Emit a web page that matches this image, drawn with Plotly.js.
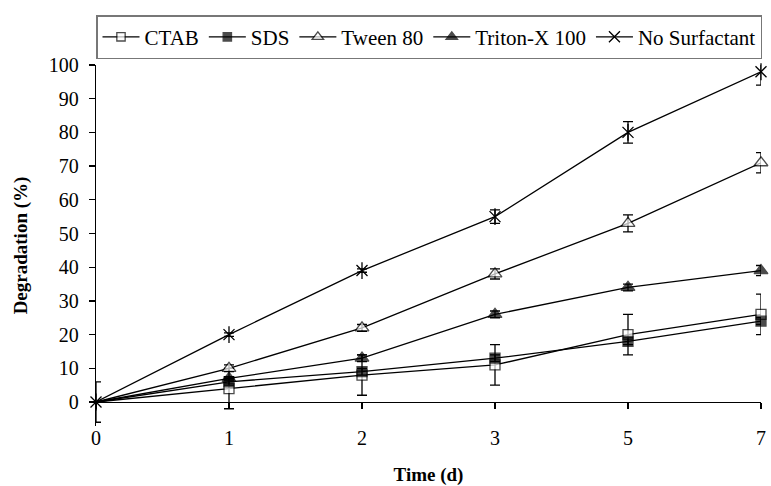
<!DOCTYPE html>
<html>
<head>
<meta charset="utf-8">
<script src="https://cdn.plot.ly/plotly-3.0.1.min.js"></script>
<style>html,body{margin:0;padding:0;background:#fff;}#chart{width:771px;height:486px;}</style>
</head>
<body>
<div id="chart"></div>
<script>
// Data
var timeLabels = ['0', '1', '2', '3', '5', '7'];

var ctab      = [0, 4, 8, 11, 20, 26];
var ctabErr   = [6, 6, 6, 6, 6, 6];

var sds       = [0, 6, 9, 13, 18, 24];
var sdsErr    = [0, 1, 1, 1, 1, 1];

var tween     = [0, 10, 22, 38, 53, 71];
var tweenErr  = [0, 1, 1, 1.5, 2.5, 3];

var triton    = [0, 7, 13, 26, 34, 39];
var tritonErr = [0, 0.5, 1, 1, 1, 1.5];

var noSurf    = [0, 20, 39, 55, 80, 98];
var noSurfErr = [0, 0.5, 0.5, 2, 3.2, 4];

var seriesNames = ['CTAB', 'SDS', 'Tween 80', 'Triton-X 100', 'No Surfactant'];

var FAM = 'Liberation Serif';

function mk(name, y, err, symbol, size, fill) {
  // the origin point is hidden under the "No Surfactant" marker in the reference
  var sizes = y.map(function (v, i) { return i === 0 ? 0 : size; });
  return {
    type: 'scatter', mode: 'lines+markers', name: name,
    x: timeLabels, y: y, cliponaxis: false,
    line: {color: '#000', width: 1.3},
    marker: {symbol: symbol, size: sizes, color: fill, line: {color: '#000', width: 1.3}},
    error_y: {type: 'data', array: err, visible: true, color: '#000', thickness: 1.3, width: 5}
  };
}

var traces = [
  mk(seriesNames[0], ctab, ctabErr, 'square', 10, '#fff'),
  mk(seriesNames[1], sds, sdsErr, 'square', 10, '#000'),
  mk(seriesNames[2], tween, tweenErr, 'triangle-up', 12, '#fff'),
  mk(seriesNames[3], triton, tritonErr, 'triangle-up', 12, '#000'),
  {
    type: 'scatter', mode: 'lines+markers', name: seriesNames[4],
    x: timeLabels, y: noSurf, cliponaxis: false,
    line: {color: '#000', width: 1.3},
    marker: {symbol: 'x-thin-open', size: 11, color: '#000', line: {color: '#000', width: 1.3}},
    error_y: {type: 'data', array: noSurfErr, visible: true, color: '#000', thickness: 1.3, width: 5}
  },
  {
    type: 'scatter', mode: 'markers', showlegend: false, hoverinfo: 'skip',
    x: timeLabels, y: noSurf, cliponaxis: false,
    marker: {symbol: 'line-ns-open', size: 12, color: '#000', line: {color: '#000', width: 1.3}}
  }
];

var yMin = -7.12;

var layout = {
  width: 771, height: 486,
  margin: {l: 96, r: 10, t: 65, b: 60},
  paper_bgcolor: '#fff', plot_bgcolor: '#fff',
  font: {family: FAM, color: '#000', size: 20},
  showlegend: true,
  legend: {
    orientation: 'h', x: 0, xanchor: 'left', y: 1.138, yanchor: 'top',
    bordercolor: '#777', borderwidth: 1.5, font: {family: FAM, size: 21, color: '#000'},
    itemwidth: 37, tracegroupgap: 0
  },
  xaxis: {
    type: 'category', range: [0, 5],
    anchor: 'free', position: -yMin / (100 - yMin),
    showline: true, linecolor: '#000', linewidth: 1.3,
    showgrid: false, zeroline: false,
    ticks: 'outside', ticklen: 6, tickcolor: '#000', tickwidth: 1.3,
    ticklabelstandoff: 12,
    tickfont: {family: FAM, size: 20, color: '#000'},
    title: {text: '<b>Time (d)</b>', font: {family: FAM, size: 19, color: '#000'}, standoff: 22}
  },
  yaxis: {
    range: [yMin, 100], tick0: 0, dtick: 10,
    showline: true, linecolor: '#000', linewidth: 1.3,
    showgrid: false, zeroline: false,
    ticks: 'outside', ticklen: 6, tickcolor: '#000', tickwidth: 1.3,
    ticklabelstandoff: 6,
    tickfont: {family: FAM, size: 20, color: '#000'},
    title: {text: '<b>Degradation (%)</b>', font: {family: FAM, size: 19, color: '#000'}, standoff: 16}
  }
};

Plotly.newPlot('chart', traces, layout, {displayModeBar: false, staticPlot: true});
</script>
</body>
</html>
